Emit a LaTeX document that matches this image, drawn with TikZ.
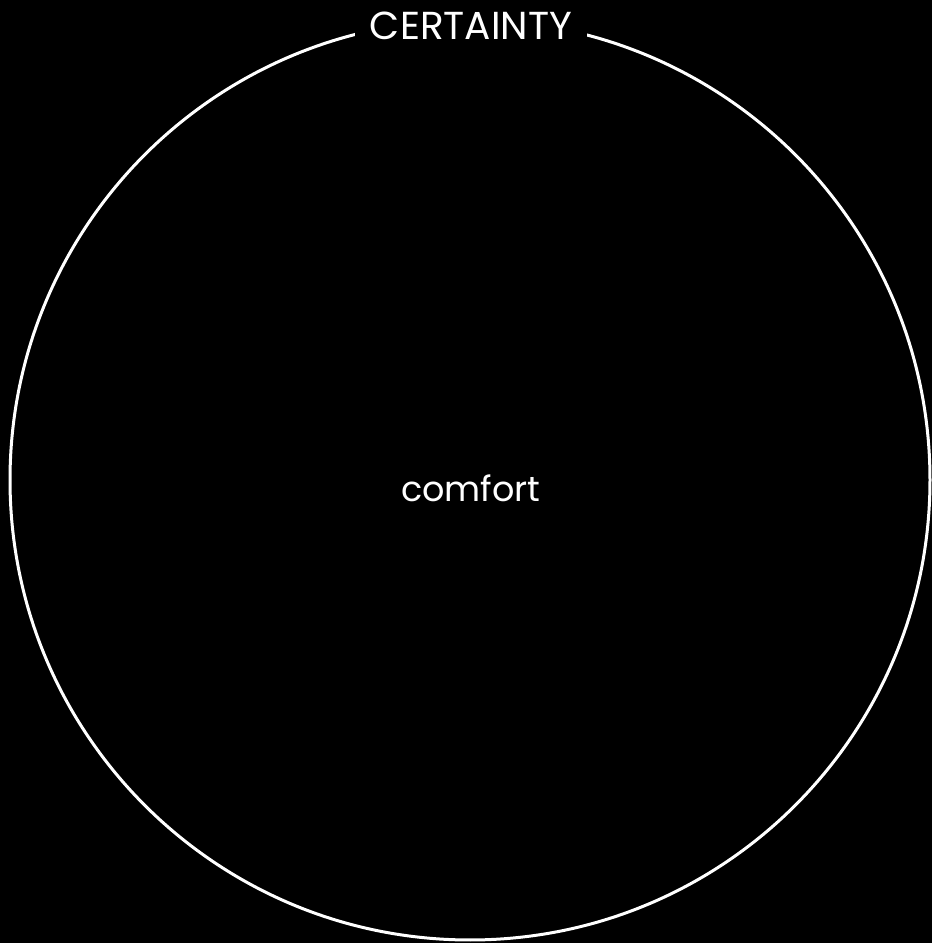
\documentclass[tikz,border=0pt]{standalone}
\usepackage{fontspec}
\setmainfont{Poppins}
\usepackage{tikz}
\usetikzlibrary{positioning}

\begin{document}
\begin{tikzpicture}[x=1pt,y=1pt]
            % Same Bounding Box
            \useasboundingbox (0,0) rectangle (932,943);
            \fill[black] (0,0) rectangle (932,943);

            \def\circleZone{(470,463) circle (460)}

            % Outline and Labels
            \draw[white, line width=3pt] \circleZone;
            \node[fill=black, text=white, inner xsep=15pt, inner ysep=2pt, font=\fontsize{39}{46}\selectfont] (certainty) at (471,917) {CERTAINTY};
            \node[text=white, font=\fontsize{35}{42}\selectfont] (comfort) at (471,455) {comfort};
        \end{tikzpicture}
\end{document}
